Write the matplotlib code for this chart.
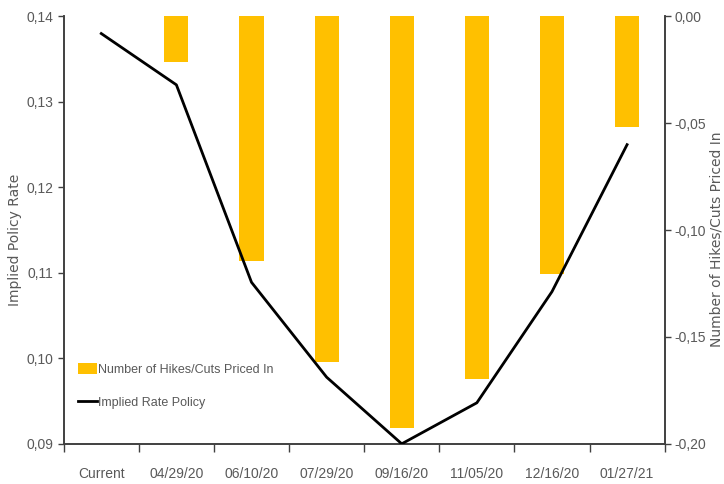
import numpy as np
import matplotlib.pyplot as plt

categories = ["Current", "04/29/20", "06/10/20", "07/29/20", "09/16/20", "11/05/20", "12/16/20", "01/27/21"]
implied_rate = [0.138, 0.132, 0.1089, 0.0978, 0.0900, 0.0948, 0.1078, 0.1250]
hikes_cuts = [0.0, -0.0213, -0.1144, -0.1616, -0.1925, -0.1696, -0.1205, -0.0517]


def fmt(v):
    if abs(v) < 1e-9:
        v = 0.0
    return ("%.2f" % v).replace('.', ',')


def main():
    plt.rcParams['font.family'] = ['Liberation Sans', 'DejaVu Sans']
    grey = '#595959'

    fig = plt.figure(figsize=(7.24, 4.84), dpi=100)
    ax = fig.add_axes([0.088, 0.083, 0.830, 0.883])
    ax2 = ax.twinx()

    x = np.arange(len(categories))

    # bars hang from zero on the right axis
    bars = ax2.bar(x, hikes_cuts, width=0.32, color='#FFC000', zorder=2)
    ax2.set_ylim(-0.20, 0.0)
    rticks = np.arange(-0.20, 0.001, 0.05)
    ax2.set_yticks(rticks)
    ax2.set_yticklabels([fmt(v) for v in rticks])

    # line on the left axis, drawn on top
    ax.set_zorder(ax2.get_zorder() + 1)
    ax.patch.set_visible(False)
    line, = ax.plot(x, implied_rate, color='black', lw=2, zorder=3)
    ax.set_ylim(0.09, 0.14)
    ticks = np.arange(0.09, 0.1401, 0.01)
    ax.set_yticks(ticks)
    ax.set_yticklabels([fmt(v) for v in ticks])

    ax.set_xlim(-0.5, len(categories) - 0.5)
    ax.set_xticks(x)
    ax.set_xticklabels(categories)
    ax.set_xticks(np.arange(-0.5, len(categories), 1.0), minor=True)
    ax.tick_params(axis='x', which='major', length=0, pad=17)
    ax.tick_params(axis='x', which='minor', length=6, width=1, color='#404040')

    for a in (ax, ax2):
        a.spines['top'].set_visible(False)
        for s in ('left', 'right', 'bottom'):
            a.spines[s].set_color('#404040')
            a.spines[s].set_linewidth(1.2)
        a.tick_params(axis='y', length=4, width=1, color='#404040', labelcolor=grey, labelsize=10)
    ax.tick_params(axis='x', labelcolor=grey, labelsize=10)
    ax2.tick_params(axis='y', pad=3)

    # axis titles placed by hand so they stay inside the canvas
    fig.text(15 / 724, 0.505, 'Implied Policy Rate', color=grey, fontsize=10, family='DejaVu Sans',
             rotation=90, ha='center', va='center')
    fig.text(716 / 724, 0.505, 'Number of Hikes/Cuts Priced In', color=grey, fontsize=10,
             family='DejaVu Sans', rotation=90, ha='center', va='center')

    leg = ax.legend([bars, line], ['Number of Hikes/Cuts Priced In', 'Implied Rate Policy'],
                    loc='upper left', bbox_to_anchor=(0.005, 0.215), frameon=False,
                    fontsize=9, labelspacing=1.65, handlelength=1.5, handletextpad=0.1,
                    handleheight=0.9)
    for t in leg.get_texts():
        t.set_color(grey)

    fig.savefig('out.png', dpi=100)


if __name__ == "__main__":
    main()
